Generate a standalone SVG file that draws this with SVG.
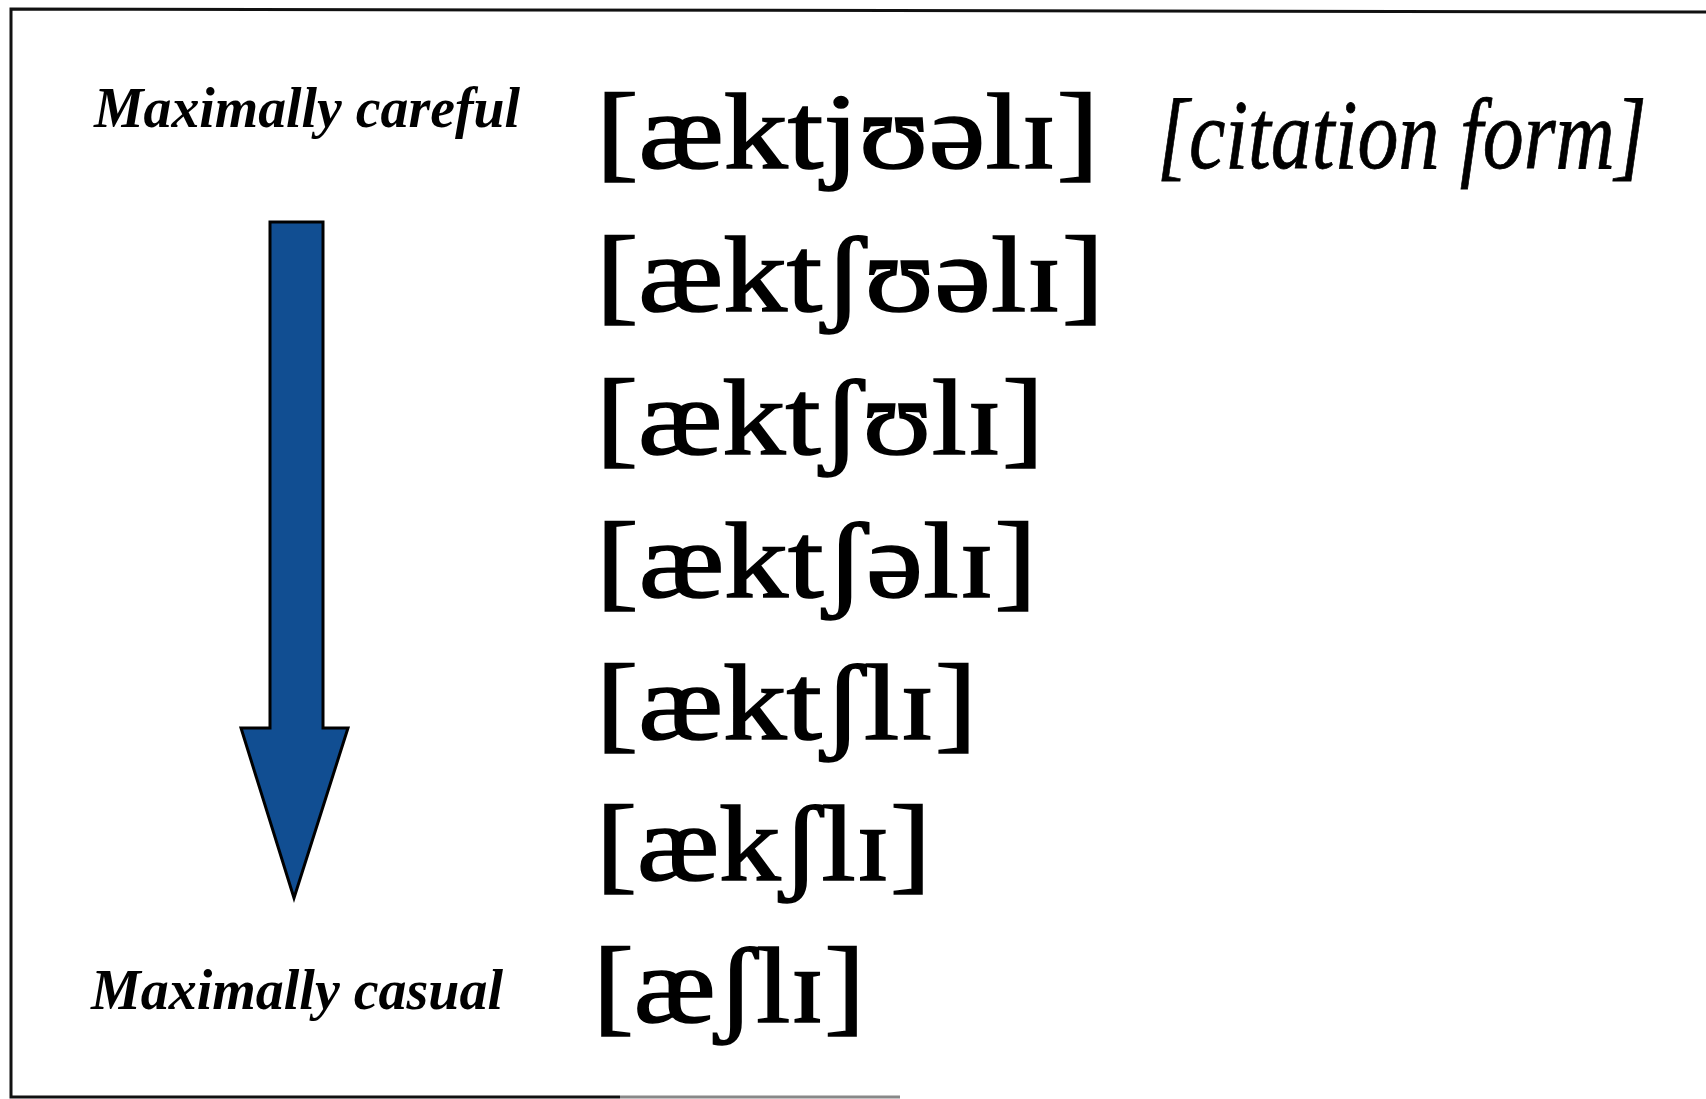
<svg xmlns="http://www.w3.org/2000/svg" width="1706" height="1099" viewBox="0 0 1706 1099">
<style>
.lbl{font-family:"Liberation Serif","Times New Roman",serif;font-weight:bold;font-style:italic;font-size:56px;fill:#000}
.ipa{font-family:"Liberation Serif","DejaVu Serif",serif;font-size:108px;fill:#000;stroke:#000;stroke-width:1.6}
.cit{font-family:"Liberation Serif","DejaVu Serif",serif;font-style:italic;font-size:100px;fill:#000;stroke:#000;stroke-width:0.8}
.frame{fill:none;stroke:#111;stroke-width:3}
</style>
<rect width="1706" height="1099" fill="#fff"/>
<g id="frame">
<path class="frame" d="M1706,12 L11,9 L11,1097 L620,1097"/>
<path d="M620,1097 L900,1097" stroke="#888" stroke-width="3" fill="none"/>
</g>
<g id="label-careful"><text class="lbl" x="94" y="127" textLength="426" lengthAdjust="spacingAndGlyphs">Maximally careful</text></g>
<g id="label-casual"><text class="lbl" x="91" y="1009" textLength="412" lengthAdjust="spacingAndGlyphs">Maximally casual</text></g>
<g id="connectors">
<path id="arrow" d="M270,222 L323,222 L323,728 L348,728 L294,898 L241,728 L270,728 Z" fill="#114e92" stroke="#000" stroke-width="3" stroke-linejoin="miter"/>
</g>
<g id="row1"><text class="ipa" x="596" y="168" textLength="503" lengthAdjust="spacingAndGlyphs">[æktjʊəlɪ]</text></g>
<g id="citation" transform="translate(1157,168) scale(0.82,1)"><text class="cit" x="0" y="0">[citation form]</text></g>
<g id="row2"><text class="ipa" x="596" y="311" textLength="508" lengthAdjust="spacingAndGlyphs">[æktʃʊəlɪ]</text></g>
<g id="row3"><text class="ipa" x="596" y="454" textLength="448" lengthAdjust="spacingAndGlyphs">[æktʃʊlɪ]</text></g>
<g id="row4"><text class="ipa" x="596" y="597" textLength="441" lengthAdjust="spacingAndGlyphs">[æktʃəlɪ]</text></g>
<g id="row5"><text class="ipa" x="596" y="739" textLength="381" lengthAdjust="spacingAndGlyphs">[æktʃlɪ]</text></g>
<g id="row6"><text class="ipa" x="596" y="880" textLength="335" lengthAdjust="spacingAndGlyphs">[ækʃlɪ]</text></g>
<g id="row7"><text class="ipa" x="593" y="1022" textLength="272" lengthAdjust="spacingAndGlyphs">[æʃlɪ]</text></g>
</svg>
